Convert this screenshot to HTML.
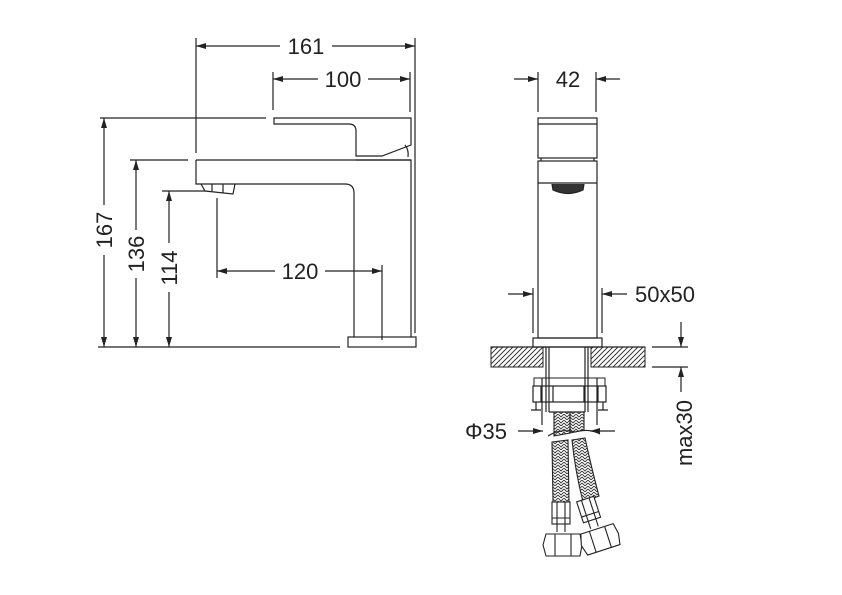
<!DOCTYPE html>
<html><head><meta charset="utf-8"><style>
html,body{margin:0;padding:0;background:#fff;}
svg{display:block;}
text{font-family:"Liberation Sans",sans-serif;font-size:22px;fill:#222;}
</style></head><body>
<svg width="842" height="595" viewBox="0 0 842 595" xmlns="http://www.w3.org/2000/svg">
<defs>
<pattern id="hatch" width="5" height="5" patternUnits="userSpaceOnUse">
<path d="M-1,6 L6,-1 M-1,1 L1,-1 M4,6 L6,4" stroke="#222" stroke-width="0.9"/>
</pattern>
<pattern id="braid" width="6" height="6" patternUnits="userSpaceOnUse">
<path d="M0,0 L3,3 L6,0 M0,3 L3,6 L6,3" stroke="#333" stroke-width="0.9" fill="none"/>
</pattern>
<marker id="ar" viewBox="0 0 10 6" refX="10" refY="3" markerWidth="10" markerHeight="6" orient="auto" markerUnits="userSpaceOnUse">
<path d="M0,0 L10,3 L0,6 z" fill="#222"/>
</marker>
</defs>
<g stroke="#222" stroke-width="1.2" fill="none">
<line x1="196" y1="38" x2="196" y2="153"/>
<line x1="415" y1="38" x2="415" y2="333"/>
<line x1="280" y1="46" x2="196" y2="46" marker-end="url(#ar)"/>
<line x1="332" y1="46" x2="415" y2="46" marker-end="url(#ar)"/>
<line x1="273" y1="72" x2="273" y2="110"/>
<line x1="410" y1="72" x2="410" y2="112"/>
<line x1="318" y1="79" x2="273" y2="79" marker-end="url(#ar)"/>
<line x1="368" y1="79" x2="410" y2="79" marker-end="url(#ar)"/>
<line x1="100" y1="118" x2="266" y2="118"/>
<line x1="130" y1="160" x2="188" y2="160"/>
<line x1="162" y1="191" x2="205" y2="191"/>
<line x1="98" y1="347" x2="340" y2="347"/>
<line x1="104" y1="205" x2="104" y2="118" marker-end="url(#ar)"/>
<line x1="104" y1="255" x2="104" y2="347" marker-end="url(#ar)"/>
<line x1="136" y1="230" x2="136" y2="160" marker-end="url(#ar)"/>
<line x1="136" y1="278" x2="136" y2="347" marker-end="url(#ar)"/>
<line x1="169" y1="243" x2="169" y2="191" marker-end="url(#ar)"/>
<line x1="169" y1="292" x2="169" y2="347" marker-end="url(#ar)"/>
<line x1="217" y1="198" x2="217" y2="278"/>
<line x1="382" y1="265" x2="382" y2="340"/>
<line x1="275" y1="271" x2="217" y2="271" marker-end="url(#ar)"/>
<line x1="325" y1="271" x2="382" y2="271" marker-end="url(#ar)"/>
<path d="M274,118 L411,118 L411,145 L382,156 L356,156 L356,131 Q356,124 349,124 L274,124 Z"/>
<line x1="356" y1="160" x2="411" y2="160"/>
<path d="M405,145 Q409,150 408,157"/>
<path d="M196,160 L411,160 L411,337"/>
<path d="M196,160 L196,184 L345,184 Q354,184 354,193 L354,337"/>
<path d="M201,184 L205,191 L233,194 L235,184"/>
<line x1="212" y1="184" x2="212" y2="191"/>
<line x1="223" y1="184" x2="223" y2="193"/>
<rect x="348" y="337" width="68" height="10"/>

<line x1="538" y1="72" x2="538" y2="112"/>
<line x1="596" y1="72" x2="596" y2="112"/>
<line x1="514" y1="79" x2="538" y2="79" marker-end="url(#ar)"/>
<line x1="620" y1="79" x2="596" y2="79" marker-end="url(#ar)"/>
<rect x="538" y="118" width="59" height="40"/>
<line x1="538" y1="124" x2="597" y2="124"/>
<path d="M541,158 L541,161 M594,158 L594,161"/>
<rect x="538" y="161" width="59" height="177"/>
<line x1="538" y1="183" x2="597" y2="183"/>
<path d="M552,184 L553,190 Q568,197 583,190 L584,184" fill="#333"/>
<line x1="533" y1="288" x2="533" y2="333"/>
<line x1="602" y1="288" x2="602" y2="333"/>
<line x1="508" y1="294" x2="533" y2="294" marker-end="url(#ar)"/>
<line x1="627" y1="294" x2="602" y2="294" marker-end="url(#ar)"/>
<rect x="533" y="338" width="69" height="9"/>
</g>
<rect x="491" y="347" width="52" height="20" fill="url(#hatch)" stroke="#222" stroke-width="1"/>
<rect x="591" y="347" width="54" height="20" fill="url(#hatch)" stroke="#222" stroke-width="1"/>
<g stroke="#222" stroke-width="1.2" fill="none">
<line x1="491" y1="347" x2="645" y2="347"/>
<line x1="546" y1="347" x2="546" y2="412"/><line x1="549" y1="347" x2="549" y2="412"/>
<line x1="588" y1="347" x2="588" y2="412"/><line x1="585" y1="347" x2="585" y2="412"/>
<line x1="549" y1="412" x2="585" y2="412"/>
<rect x="534" y="378" width="71" height="8" stroke-width="1"/>
<rect x="533" y="386" width="73" height="16"/>
<line x1="541" y1="386" x2="541" y2="402"/><line x1="598" y1="386" x2="598" y2="402"/>
<line x1="553" y1="386" x2="553" y2="402"/><line x1="584" y1="386" x2="584" y2="402"/>
<path d="M536,402 L536,410 M603,402 L603,410 M531,410 L541,410 M598,410 L608,410"/>
<line x1="542" y1="378" x2="542" y2="425"/><line x1="597" y1="378" x2="597" y2="425"/>
<line x1="518" y1="431" x2="543" y2="431" marker-end="url(#ar)"/>
<line x1="615" y1="431" x2="590" y2="431" marker-end="url(#ar)"/>
<line x1="652" y1="347" x2="688" y2="347"/>
<line x1="652" y1="367" x2="688" y2="367"/>
<line x1="681" y1="322" x2="681" y2="347" marker-end="url(#ar)"/>
<line x1="681" y1="392" x2="681" y2="367" marker-end="url(#ar)"/>
</g>
<g stroke="#222" stroke-width="1.1">
<path d="M554,412 L570,412 L570,433 L554,436 Z" fill="url(#braid)"/>
<path d="M570,412 L584,412 L584,430 L570,433 Z" fill="url(#braid)"/>
<path d="M552,442 L568,440 L569,502 L553,502 Z" fill="url(#braid)"/>
<path d="M572,440 L585,438 Q592,470 599,496 L583,502 Q575,470 572,440 Z" fill="url(#braid)"/>
<path d="M548,436 Q560,428 575,432 Q590,428 600,434" fill="none"/>
<rect x="552" y="502" width="18" height="22" fill="#fff"/>
<line x1="552" y1="518" x2="570" y2="518"/>
<line x1="557" y1="502" x2="557" y2="532"/><line x1="565" y1="502" x2="565" y2="532"/>
<path d="M546,534 L580,534 L582,545 L580,556 L546,556 L543,545 Z" fill="#fff"/>
<line x1="555" y1="534" x2="555" y2="556"/><line x1="571" y1="534" x2="571" y2="556"/>
<g transform="rotate(-18 592 520)">
<rect x="583" y="498" width="18" height="22" fill="#fff"/>
<line x1="583" y1="514" x2="601" y2="514"/>
<line x1="588" y1="498" x2="588" y2="528"/><line x1="596" y1="498" x2="596" y2="528"/>
<path d="M577,530 L611,530 L613,541 L611,552 L577,552 L574,541 Z" fill="#fff"/>
<line x1="586" y1="530" x2="586" y2="552"/><line x1="602" y1="530" x2="602" y2="552"/>
</g>
</g>
<text x="306" y="54" text-anchor="middle">161</text>
<text x="343" y="87" text-anchor="middle">100</text>
<text x="300" y="279" text-anchor="middle">120</text>
<text transform="translate(112,230) rotate(-90)" text-anchor="middle">167</text>
<text transform="translate(144,254) rotate(-90)" text-anchor="middle">136</text>
<text transform="translate(177,268) rotate(-90)" text-anchor="middle">114</text>
<text x="568" y="87" text-anchor="middle">42</text>
<text x="635" y="302">50x50</text>
<text x="465" y="439">Φ35</text>
<text transform="translate(692,433) rotate(-90)" text-anchor="middle">max30</text>
</svg>
</body></html>
